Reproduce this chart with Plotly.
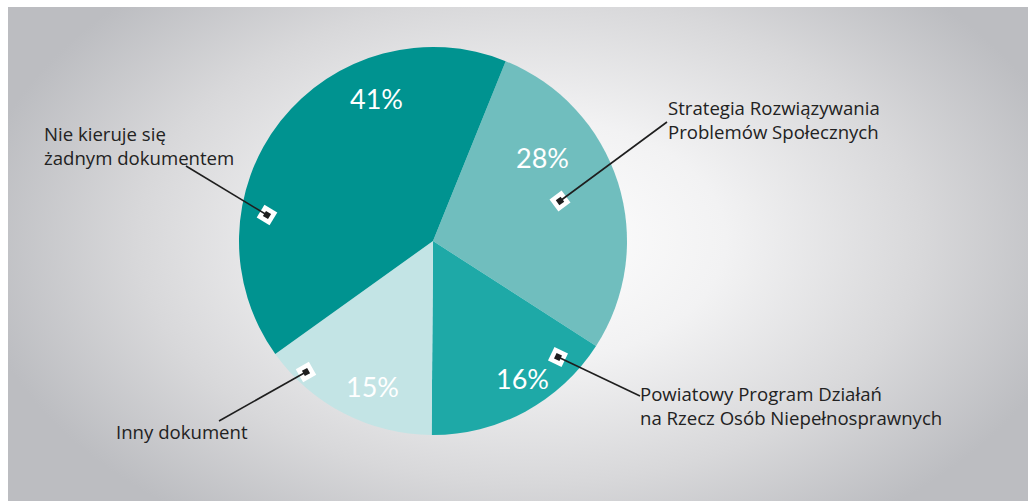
import base64
import math
import plotly.graph_objects as go

W, H = 1029, 501

# ---- data ----
labels = ["Strategia Rozwiązywania<br>Problemów Społecznych",
          "Powiatowy Program Działań<br>na Rzecz Osób Niepełnosprawnych",
          "Inny dokument",
          "Nie kieruje się<br>żadnym dokumentem"]
values = [28, 16, 15, 41]
colors = ["#70bebe", "#1ea9a7", "#c3e4e5", "#009390"]

# layout positions (pixels) for texts / leader lines
pct_pos = [(542, 157), (522, 378), (372, 386), (376, 98)]
label_pos = [(666, 119), (638, 405), (114, 431), (42, 145)]
leader = [((560, 201), (667, 122)),
          ((558, 357), (640, 396)),
          ((306, 372), (219, 421)),
          ((267, 215), (186, 166))]

# ---- background gradient as svg image ----
svg = f'''<svg xmlns="http://www.w3.org/2000/svg" width="{W}" height="{H}" viewBox="0 0 {W} {H}">
<defs><radialGradient id="g" gradientUnits="userSpaceOnUse" cx="530" cy="240" r="560"
 gradientTransform="translate(530 240) scale(1 0.62) translate(-530 -240)">
<stop offset="0" stop-color="#ffffff"/>
<stop offset="0.35" stop-color="#f2f2f3"/>
<stop offset="0.7" stop-color="#d8d8da"/>
<stop offset="1" stop-color="#bcbdc1"/>
</radialGradient></defs>
<rect x="0" y="0" width="{W}" height="{H}" fill="#ffffff"/>
<rect x="8" y="7" width="{W-9}" height="{H-7}" fill="url(#g)"/>
</svg>'''
src = "data:image/svg+xml;base64," + base64.b64encode(svg.encode()).decode()

fig = go.Figure()

# pie geometry
cx, cy, r = 433, 241, 194
fig.add_trace(go.Pie(
    values=values, labels=labels, sort=False, direction="clockwise", rotation=22,
    marker=dict(colors=colors, line=dict(width=0)),
    textinfo="none", hoverinfo="label+percent", showlegend=False,
    domain=dict(x=[(cx - 260) / W, (cx + 260) / W],
                y=[1 - (cy + r) / H, 1 - (cy - r) / H]),
))


def rot_square(x, y, half, ang):
    pts = []
    for k in range(4):
        a = math.radians(ang + 45 + 90 * k)
        pts.append((x + half * math.sqrt(2) * math.cos(a), y + half * math.sqrt(2) * math.sin(a)))
    return "M " + " L ".join(f"{px:.2f},{py:.2f}" for px, py in pts) + " Z"


# leader lines + markers
for (p0, p1) in leader:
    ang = math.degrees(math.atan2(p1[1] - p0[1], p1[0] - p0[0]))
    fig.add_shape(type="path", xref="x", yref="y", path=rot_square(p0[0], p0[1], 7.5, ang),
                  fillcolor="white", line=dict(width=0))
    fig.add_shape(type="line", xref="x", yref="y", x0=p0[0], y0=p0[1], x1=p1[0], y1=p1[1],
                  line=dict(color="#1e1e1e", width=1.6))
    fig.add_shape(type="path", xref="x", yref="y", path=rot_square(p0[0], p0[1], 3, ang),
                  fillcolor="#1e1e1e", line=dict(width=0))

total = sum(values)
for v, (x, y) in zip(values, pct_pos):
    fig.add_annotation(x=x, y=y, xref="x", yref="y", text=f"{round(100*v/total)}%",
                       showarrow=False, font=dict(family="Lato", size=27, color="white"))

for lab, (x, y) in zip(labels, label_pos):
    fig.add_annotation(x=x, y=y, xref="x", yref="y", text=lab, showarrow=False,
                       xanchor="left", yanchor="middle", align="left",
                       font=dict(family="Open Sans", size=18.6, color="#222222"))

fig.update_layout(
    width=W, height=H, margin=dict(l=0, r=0, t=0, b=0),
    paper_bgcolor="white", plot_bgcolor="rgba(0,0,0,0)",
    xaxis=dict(range=[0, W], visible=False, fixedrange=True),
    yaxis=dict(range=[H, 0], visible=False, fixedrange=True),
    images=[dict(source=src, xref="paper", yref="paper", x=0, y=1, sizex=1, sizey=1,
                 sizing="stretch", layer="below", xanchor="left", yanchor="top")],
)

fig.write_html("out.html", config={"displayModeBar": False},
               post_script="document.body.style.margin='0';")
